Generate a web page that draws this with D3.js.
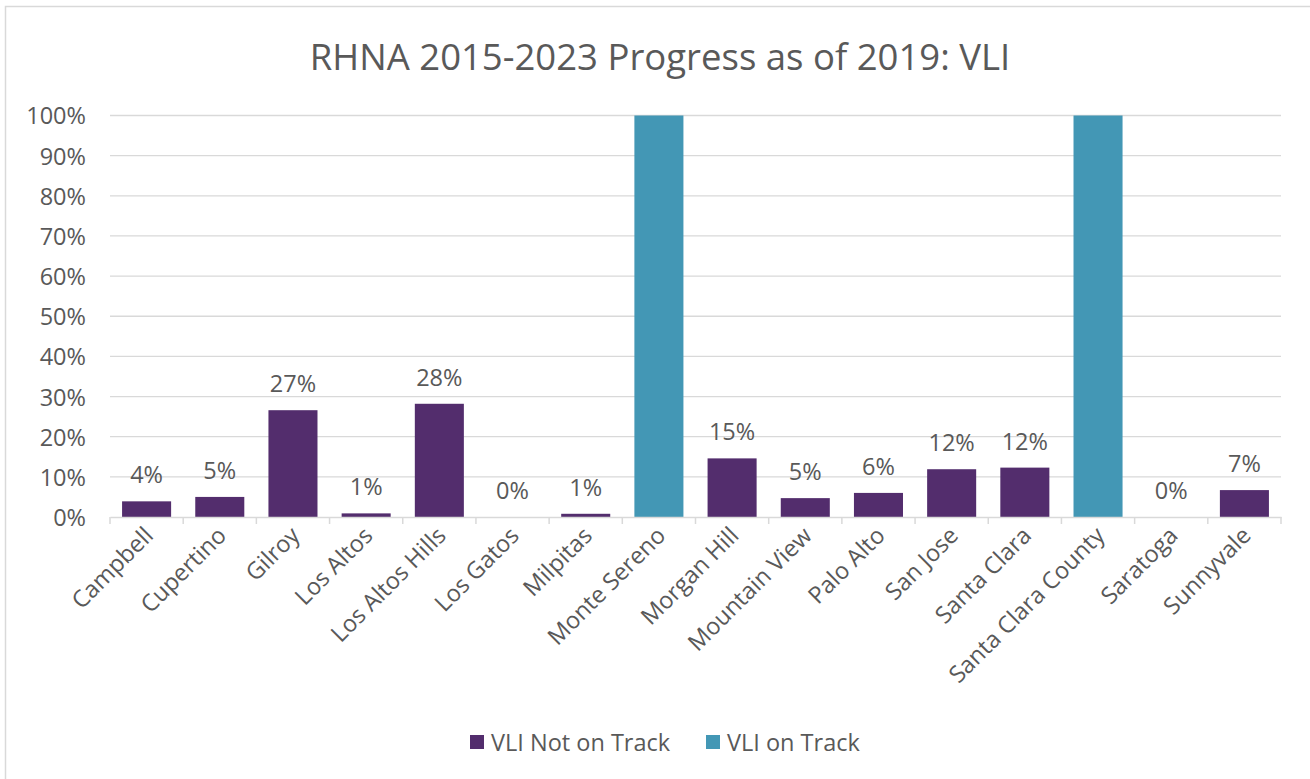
<!DOCTYPE html>
<html>
<head>
<meta charset="utf-8">
<script src="https://cdn.jsdelivr.net/npm/d3@7"></script>
<style>
  html, body { margin: 0; padding: 0; background: #fff; }
  svg { display: block; }
  svg text { font-family: "Open Sans", Lato, sans-serif; }
</style>
</head>
<body>
<svg id="chart" width="1310" height="779"></svg>
<script>
const categories = ["Campbell","Cupertino","Gilroy","Los Altos","Los Altos Hills","Los Gatos","Milpitas","Monte Sereno","Morgan Hill","Mountain View","Palo Alto","San Jose","Santa Clara","Santa Clara County","Saratoga","Sunnyvale"];
const notOnTrack = [0.039,0.050,0.266,0.009,0.282,0.000,0.008,null,0.146,0.047,0.060,0.119,0.123,null,0.000,0.067];
const onTrack    = [null,null,null,null,null,null,null,1.0,null,null,null,null,null,1.0,null,null];
const yTicks = [0,0.1,0.2,0.3,0.4,0.5,0.6,0.7,0.8,0.9,1.0];
const seriesNames = ["VLI Not on Track","VLI on Track"];
const colors = ["#532d6d","#4397b5"];
const title = "RHNA 2015-2023 Progress as of 2019: VLI";

const svg = d3.select("#chart");
const textColor = "#595959";
const fs = "23.5px";

// frame
svg.append("rect").attr("x",5.5).attr("y",6.5).attr("width",1320).attr("height",800)
  .attr("fill","none").attr("stroke","#d9d9d9").attr("stroke-width",1.5);

const x = d3.scaleBand().domain(categories).range([110,1281]).paddingInner(0.33).paddingOuter(0.165);
const y = d3.scaleLinear().domain([0,1]).range([517,115.5]);

// gridlines
svg.append("g").selectAll("line").data(yTicks.filter(d=>d>0)).join("line")
  .attr("x1",110).attr("x2",1281).attr("y1",d=>y(d)).attr("y2",d=>y(d))
  .attr("stroke","#d9d9d9").attr("stroke-width",1.3);

// y axis labels
const yAxis = d3.axisLeft(y).tickValues(yTicks).tickFormat(d3.format(".0%")).tickSize(0).tickPadding(0);
const yg = svg.append("g").attr("transform","translate(86,0)").call(yAxis);
yg.attr("font-family",null).attr("font-size",null);
yg.select(".domain").remove();
yg.selectAll("text").attr("fill",textColor).style("font-size",fs).attr("dy","0.36em");

// bars
const barsNot = categories.map((c,i)=>({c, v: notOnTrack[i]})).filter(d=>d.v!==null);
const barsOn = categories.map((c,i)=>({c, v: onTrack[i]})).filter(d=>d.v!==null);
svg.append("g").selectAll("rect").data(barsNot).join("rect")
  .attr("x",d=>x(d.c)).attr("width",x.bandwidth())
  .attr("y",d=>y(d.v)).attr("height",d=>y(0)-y(d.v))
  .attr("fill",colors[0]);
svg.append("g").selectAll("rect").data(barsOn).join("rect")
  .attr("x",d=>x(d.c)).attr("width",x.bandwidth())
  .attr("y",d=>y(d.v)).attr("height",d=>y(0)-y(d.v))
  .attr("fill",colors[1]);

// data labels
svg.append("g").selectAll("text").data(barsNot).join("text")
  .attr("x",d=>x(d.c)+x.bandwidth()/2).attr("y",d=>y(d.v)-18)
  .attr("text-anchor","middle").attr("fill",textColor).style("font-size",fs)
  .text(d=>d3.format(".0%")(d.v));

// x axis
const xAxis = d3.axisBottom(x).tickSize(0).tickPadding(0);
const xg = svg.append("g").attr("transform","translate(0,517)").call(xAxis);
xg.attr("font-family",null).attr("font-size",null);
xg.select(".domain").attr("stroke","#d9d9d9").attr("stroke-width",1.5);
xg.selectAll(".tick line").remove();
const bounds = d3.range(categories.length+1).map(i=>110 + i*(1281-110)/categories.length);
svg.append("g").selectAll("line").data(bounds).join("line")
  .attr("x1",d=>d).attr("x2",d=>d).attr("y1",517).attr("y2",524)
  .attr("stroke","#d9d9d9").attr("stroke-width",1.5);
xg.selectAll(".tick text")
  .attr("fill",textColor).style("font-size",fs)
  .attr("text-anchor","end").attr("dy","0")
  .attr("transform","translate(8,20) rotate(-45)");

// title
svg.append("text").attr("x",660).attr("y",70).attr("text-anchor","middle")
  .attr("fill",textColor).style("font-size","36.5px").text(title);

// legend
const legendItems = [{name:seriesNames[0], color:colors[0], x:470},{name:seriesNames[1], color:colors[1], x:706}];
const lg = svg.append("g").selectAll("g").data(legendItems).join("g")
  .attr("transform",d=>`translate(${d.x},735)`);
lg.append("rect").attr("width",14).attr("height",14).attr("fill",d=>d.color);
lg.append("text").attr("x",21).attr("y",15.5).attr("fill",textColor).style("font-size",fs).text(d=>d.name);
</script>
</body>
</html>
